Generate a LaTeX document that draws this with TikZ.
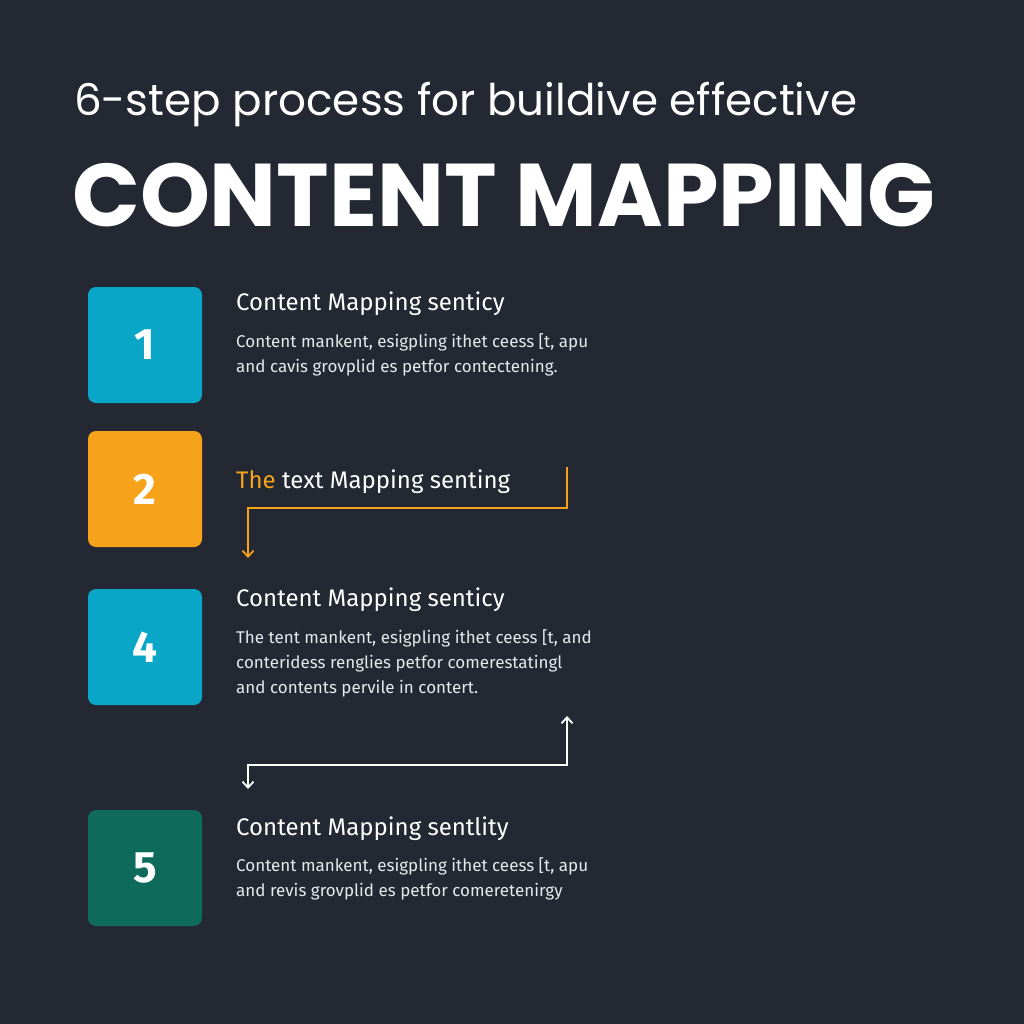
\documentclass[tikz,border=0pt]{standalone}
\usepackage{fontspec}
\setmainfont{Fira Sans}
\newfontfamily\titlefont{Poppins}
\definecolor{bg}{HTML}{232832}
\definecolor{cy}{HTML}{0AA6C8}
\definecolor{og}{HTML}{F6A21B}
\definecolor{tl}{HTML}{0E6B5C}
\definecolor{tx}{HTML}{E6E8EC}
\usetikzlibrary{arrows.meta}
\begin{document}
\begin{tikzpicture}[x=1pt,y=-1pt,
  numbox/.style={rounded corners=8pt,minimum width=114pt,minimum height=116pt,inner sep=0,text=white,font=\fontsize{44}{44}\selectfont\bfseries},
  head/.style={anchor=west,inner sep=0,text=white,font=\fontsize{24}{26}\selectfont},
  body/.style={anchor=north west,inner sep=0,text=tx,align=left,font=\fontsize{17}{25}\selectfont},
  conn/.style={line width=1.8pt,-{Straight Barb[length=6pt,width=11pt]}}]
\fill[bg] (0,0) rectangle (1024,1024);
\useasboundingbox (0,0) rectangle (1024,1024);
\node[anchor=west,inner sep=0,text=white] (t1) at (74,105) {\resizebox{783pt}{!}{\titlefont\fontsize{42}{42}\selectfont 6-step process for buildive effective}};
\node[anchor=west,inner sep=0,text=white] (t2) at (72,195) {\resizebox{863pt}{!}{\titlefont\bfseries\fontsize{74}{74}\selectfont CONTENT MAPPING}};
\node[numbox,fill=cy] (b1) at (145,345) {1};
\node[numbox,fill=og] (b2) at (145,489) {2};
\node[numbox,fill=cy] (b4) at (145,647) {4};
\node[numbox,fill=tl] (b5) at (145,868) {5};
\node[head] (h1) at (236,304) {Content Mapping senticy};
\node[body] (p1) at (236,333) {Content mankent, esigpling ithet ceess {[}t, apu\\and cavis grovplid es petfor contectening.};
\node[head] (h2) at (236,482) {\textcolor{og}{The} text Mapping senting};
\node[head] (h4) at (236,600) {Content Mapping senticy};
\node[body] (p4) at (236,629) {The tent mankent, esigpling ithet ceess {[}t, and\\conteridess renglies petfor comerestatingl\\and contents pervile in contert.};
\node[head] (h5) at (236,829) {Content Mapping sentlity};
\node[body] (p5) at (236,857) {Content mankent, esigpling ithet ceess {[}t, apu\\and revis grovplid es petfor comeretenirgy};
\coordinate (o1) at (567,467);
\coordinate (o2) at (248,558);
\draw[conn,og] (o1) -- (567,508) -- (248,508) -- (o2);
\coordinate (w1) at (248,789);
\coordinate (w2) at (567,716);
\draw[conn,white,{Straight Barb[length=6pt,width=11pt]}-{Straight Barb[length=6pt,width=11pt]}] (w1) -- (248,765) -- (567,765) -- (w2);
\end{tikzpicture}
\end{document}
